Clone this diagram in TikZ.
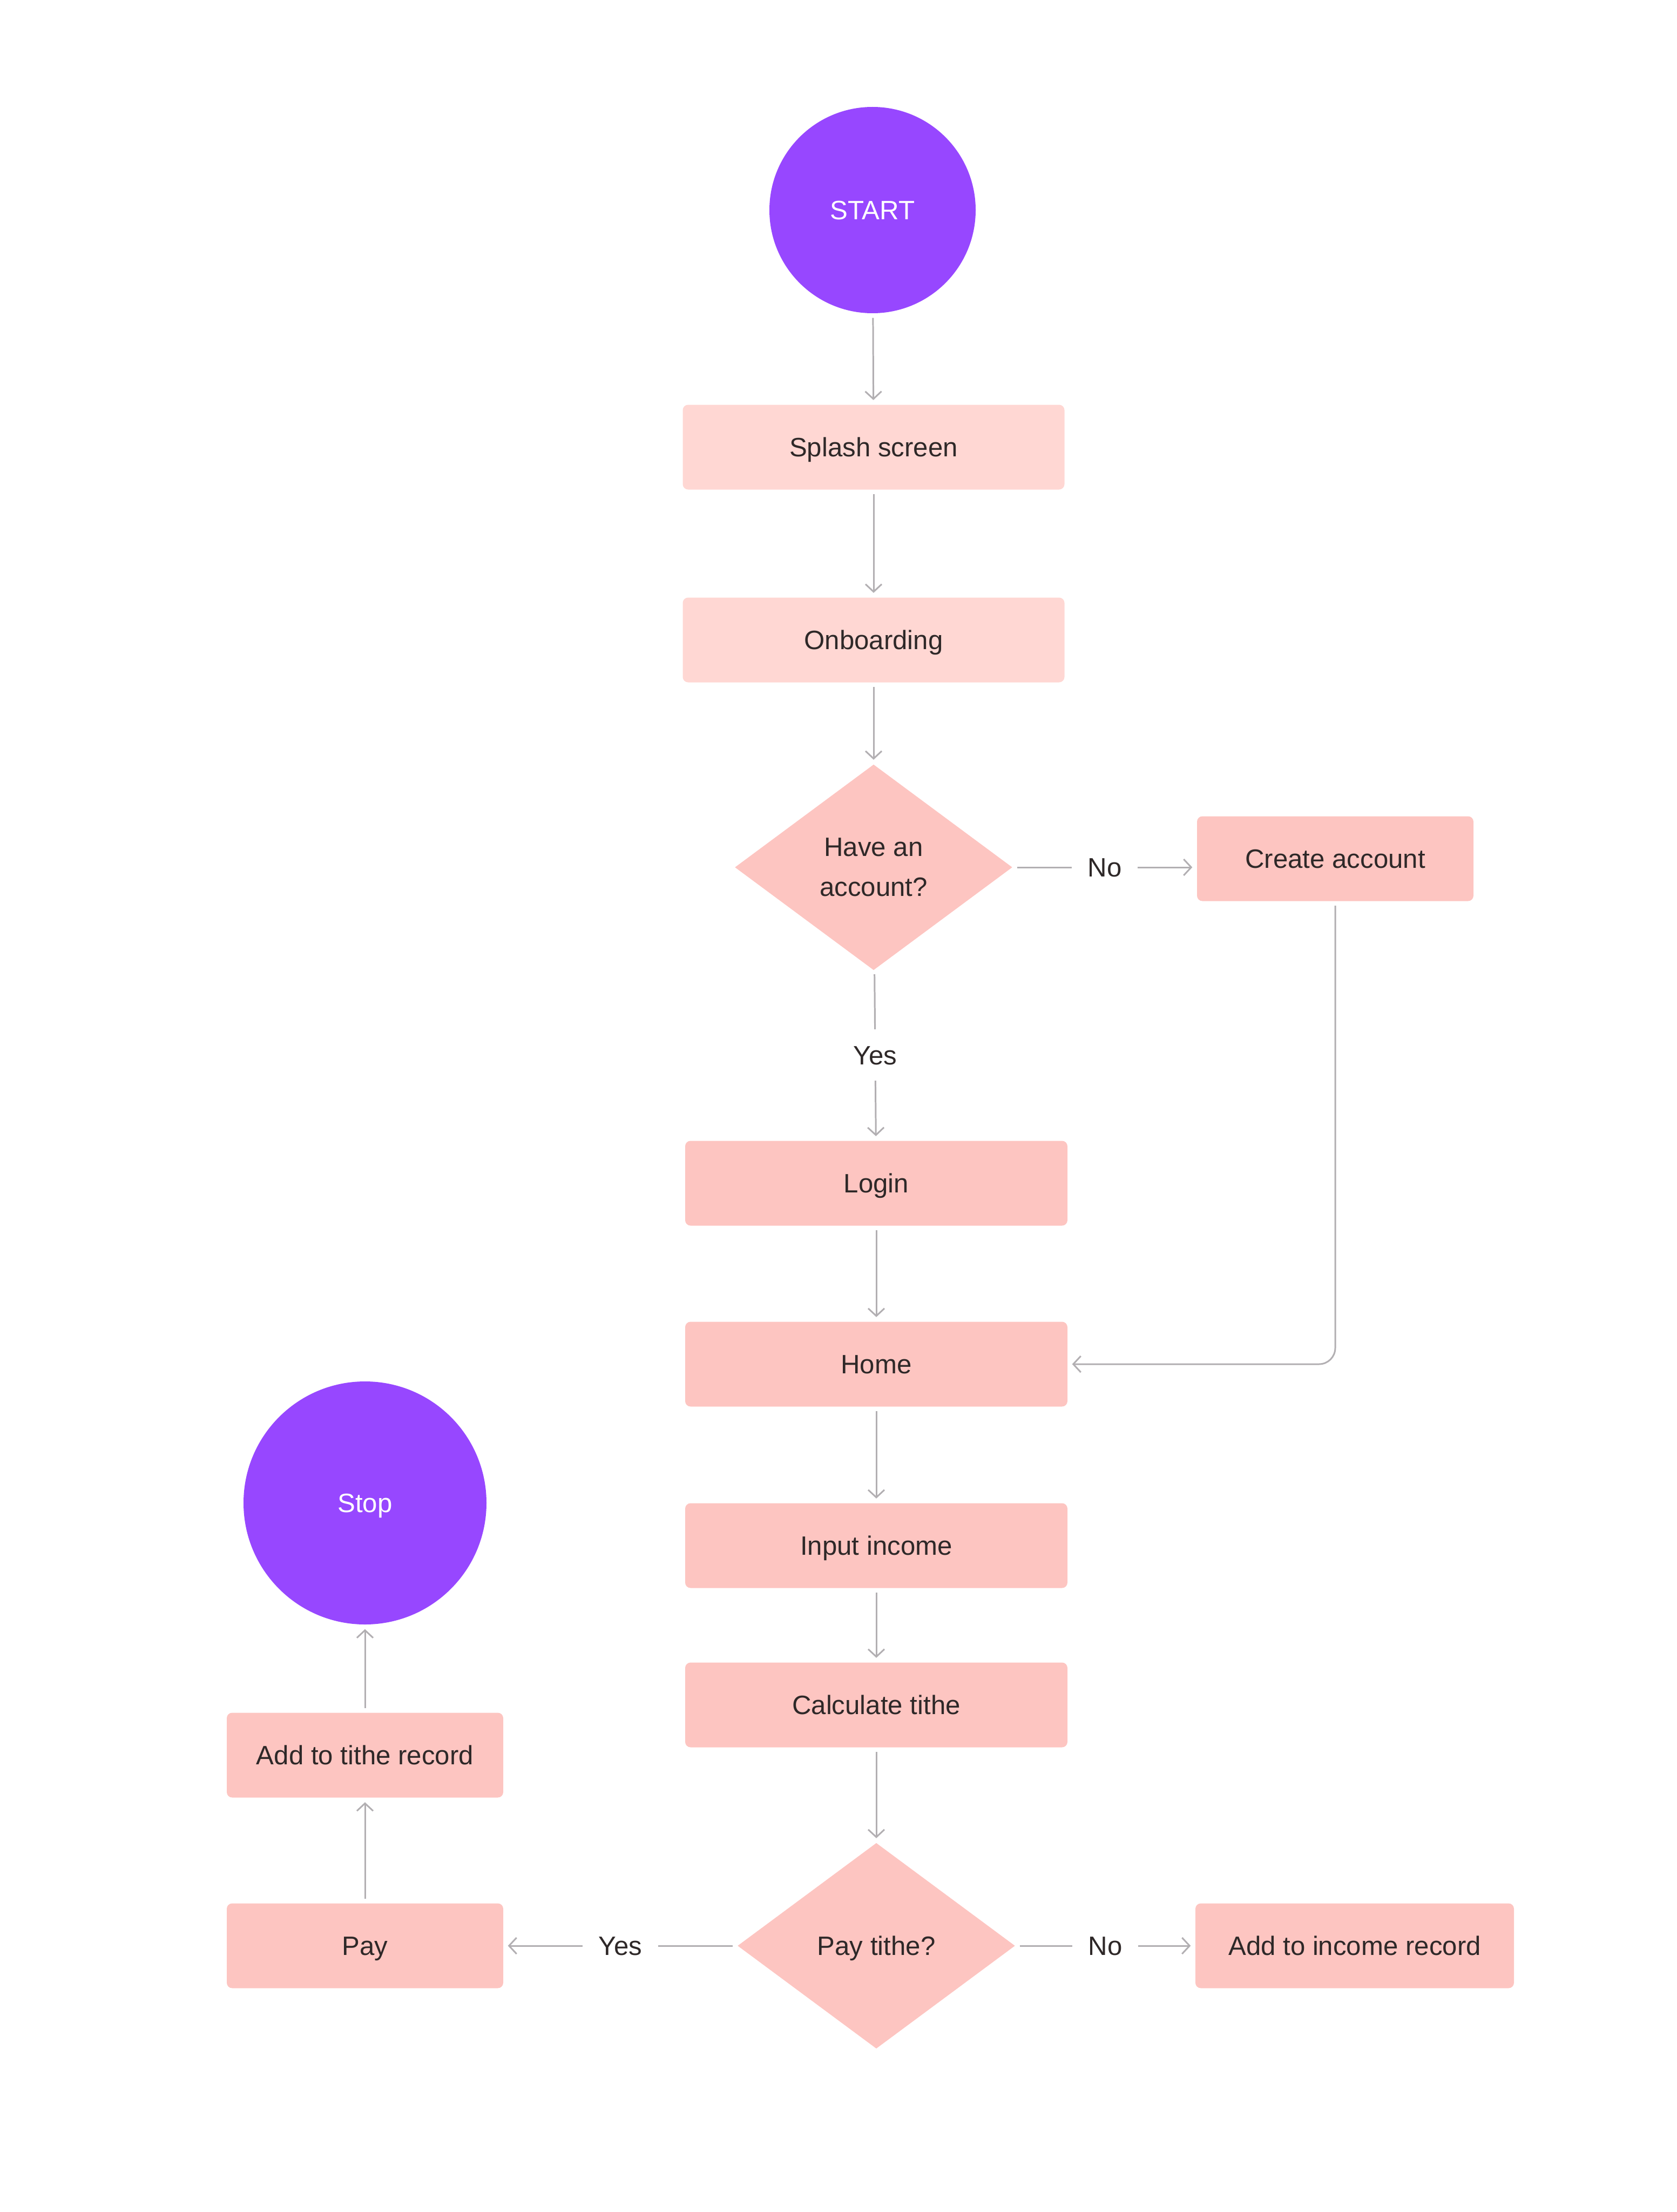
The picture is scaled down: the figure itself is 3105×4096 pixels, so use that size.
\documentclass[tikz,border=0pt]{standalone}
\usepackage{fontspec}
\setmainfont{Liberation Sans}
\usepackage{tikz}
\usetikzlibrary{arrows.meta, positioning, shapes.geometric}

\definecolor{startpurple}{HTML}{9747FF}
\definecolor{lightpink}{HTML}{FFD7D3}
\definecolor{boxpink}{HTML}{FDC5C1}
\definecolor{inkdark}{HTML}{2E2828}
\definecolor{linegray}{HTML}{B2AFB2}

\begin{document}
\begin{tikzpicture}[x=0.1mm, y=-0.1mm,
    every node/.style={font=\fontsize{14pt}{21pt}\selectfont, text=inkdark},
    oneline/.style={text height=10pt, text depth=0pt},
    terminal/.style={circle, fill=startpurple, text=white, inner sep=0pt, oneline},
    screen/.style={rectangle, rounded corners=1mm, fill=boxpink, minimum height=15.7mm, inner sep=0pt, oneline},
    firstscreen/.style={screen, fill=lightpink},
    decision/.style={diamond, fill=boxpink, minimum width=51.4mm, minimum height=38.1mm, inner sep=0pt, align=center},
    flow/.style={draw=linegray, line width=0.85pt, -{Straight Barb[length=1.4mm, width=3mm, line width=0.85pt]}, shorten >=0.8mm, shorten <=0.8mm},
    answer/.style={fill=white, inner sep=3mm, oneline}]
    \useasboundingbox (0,0) rectangle (3105,4096);

    % Main column
    \node[terminal, minimum size=38.2mm] (start) at (1616,389) {START};
    \node[firstscreen, minimum width=70.7mm] (splash) at (1618,828) {Splash screen};
    \node[firstscreen, minimum width=70.7mm] (onboard) at (1618,1185) {Onboarding};
    \node[decision] (account) at (1618,1606) {\raisebox{-2.1mm}{\shortstack{Have an\\[2.9mm]account?}}};
    \node[screen, minimum width=51.2mm] (create) at (2473,1590) {Create account};
    \node[screen, minimum width=70.8mm] (login) at (1623,2191) {Login};
    \node[screen, minimum width=70.8mm] (home) at (1623,2526) {Home};
    \node[screen, minimum width=70.8mm] (income) at (1623,2862) {Input income};
    \node[screen, minimum width=70.8mm] (tithe) at (1623,3157) {Calculate tithe};
    \node[decision, oneline] (paytithe) at (1623,3603) {Pay tithe?};

    % Side branches
    \node[screen, minimum width=59mm] (increc) at (2509,3603) {Add to income record};
    \node[screen, minimum width=51.2mm] (pay) at (676,3603) {Pay};
    \node[screen, minimum width=51.2mm] (titherec) at (676,3250) {Add to tithe record};
    \node[terminal, minimum size=45mm] (stop) at (676,2783) {Stop};

    % Connectors
    \draw[flow] (start) -- (splash);
    \draw[flow] (splash) -- (onboard);
    \draw[flow] (onboard) -- (account);
    \draw[flow] (account.east) -- node[answer] {No} (create.west |- account.east);
    \draw[flow] (account) -- node[answer] {Yes} (login);
    \draw[flow, rounded corners=3mm] (create.south) |- (home.east);
    \draw[flow] (login) -- (home);
    \draw[flow] (home) -- (income);
    \draw[flow] (income) -- (tithe);
    \draw[flow] (tithe) -- (paytithe);
    \draw[flow] (paytithe.east) -- node[answer] {No} (increc.west);
    \draw[flow] (paytithe.west) -- node[answer] {Yes} (pay.east);
    \draw[flow] (pay) -- (titherec);
    \draw[flow] (titherec) -- (stop);
\end{tikzpicture}
\end{document}
